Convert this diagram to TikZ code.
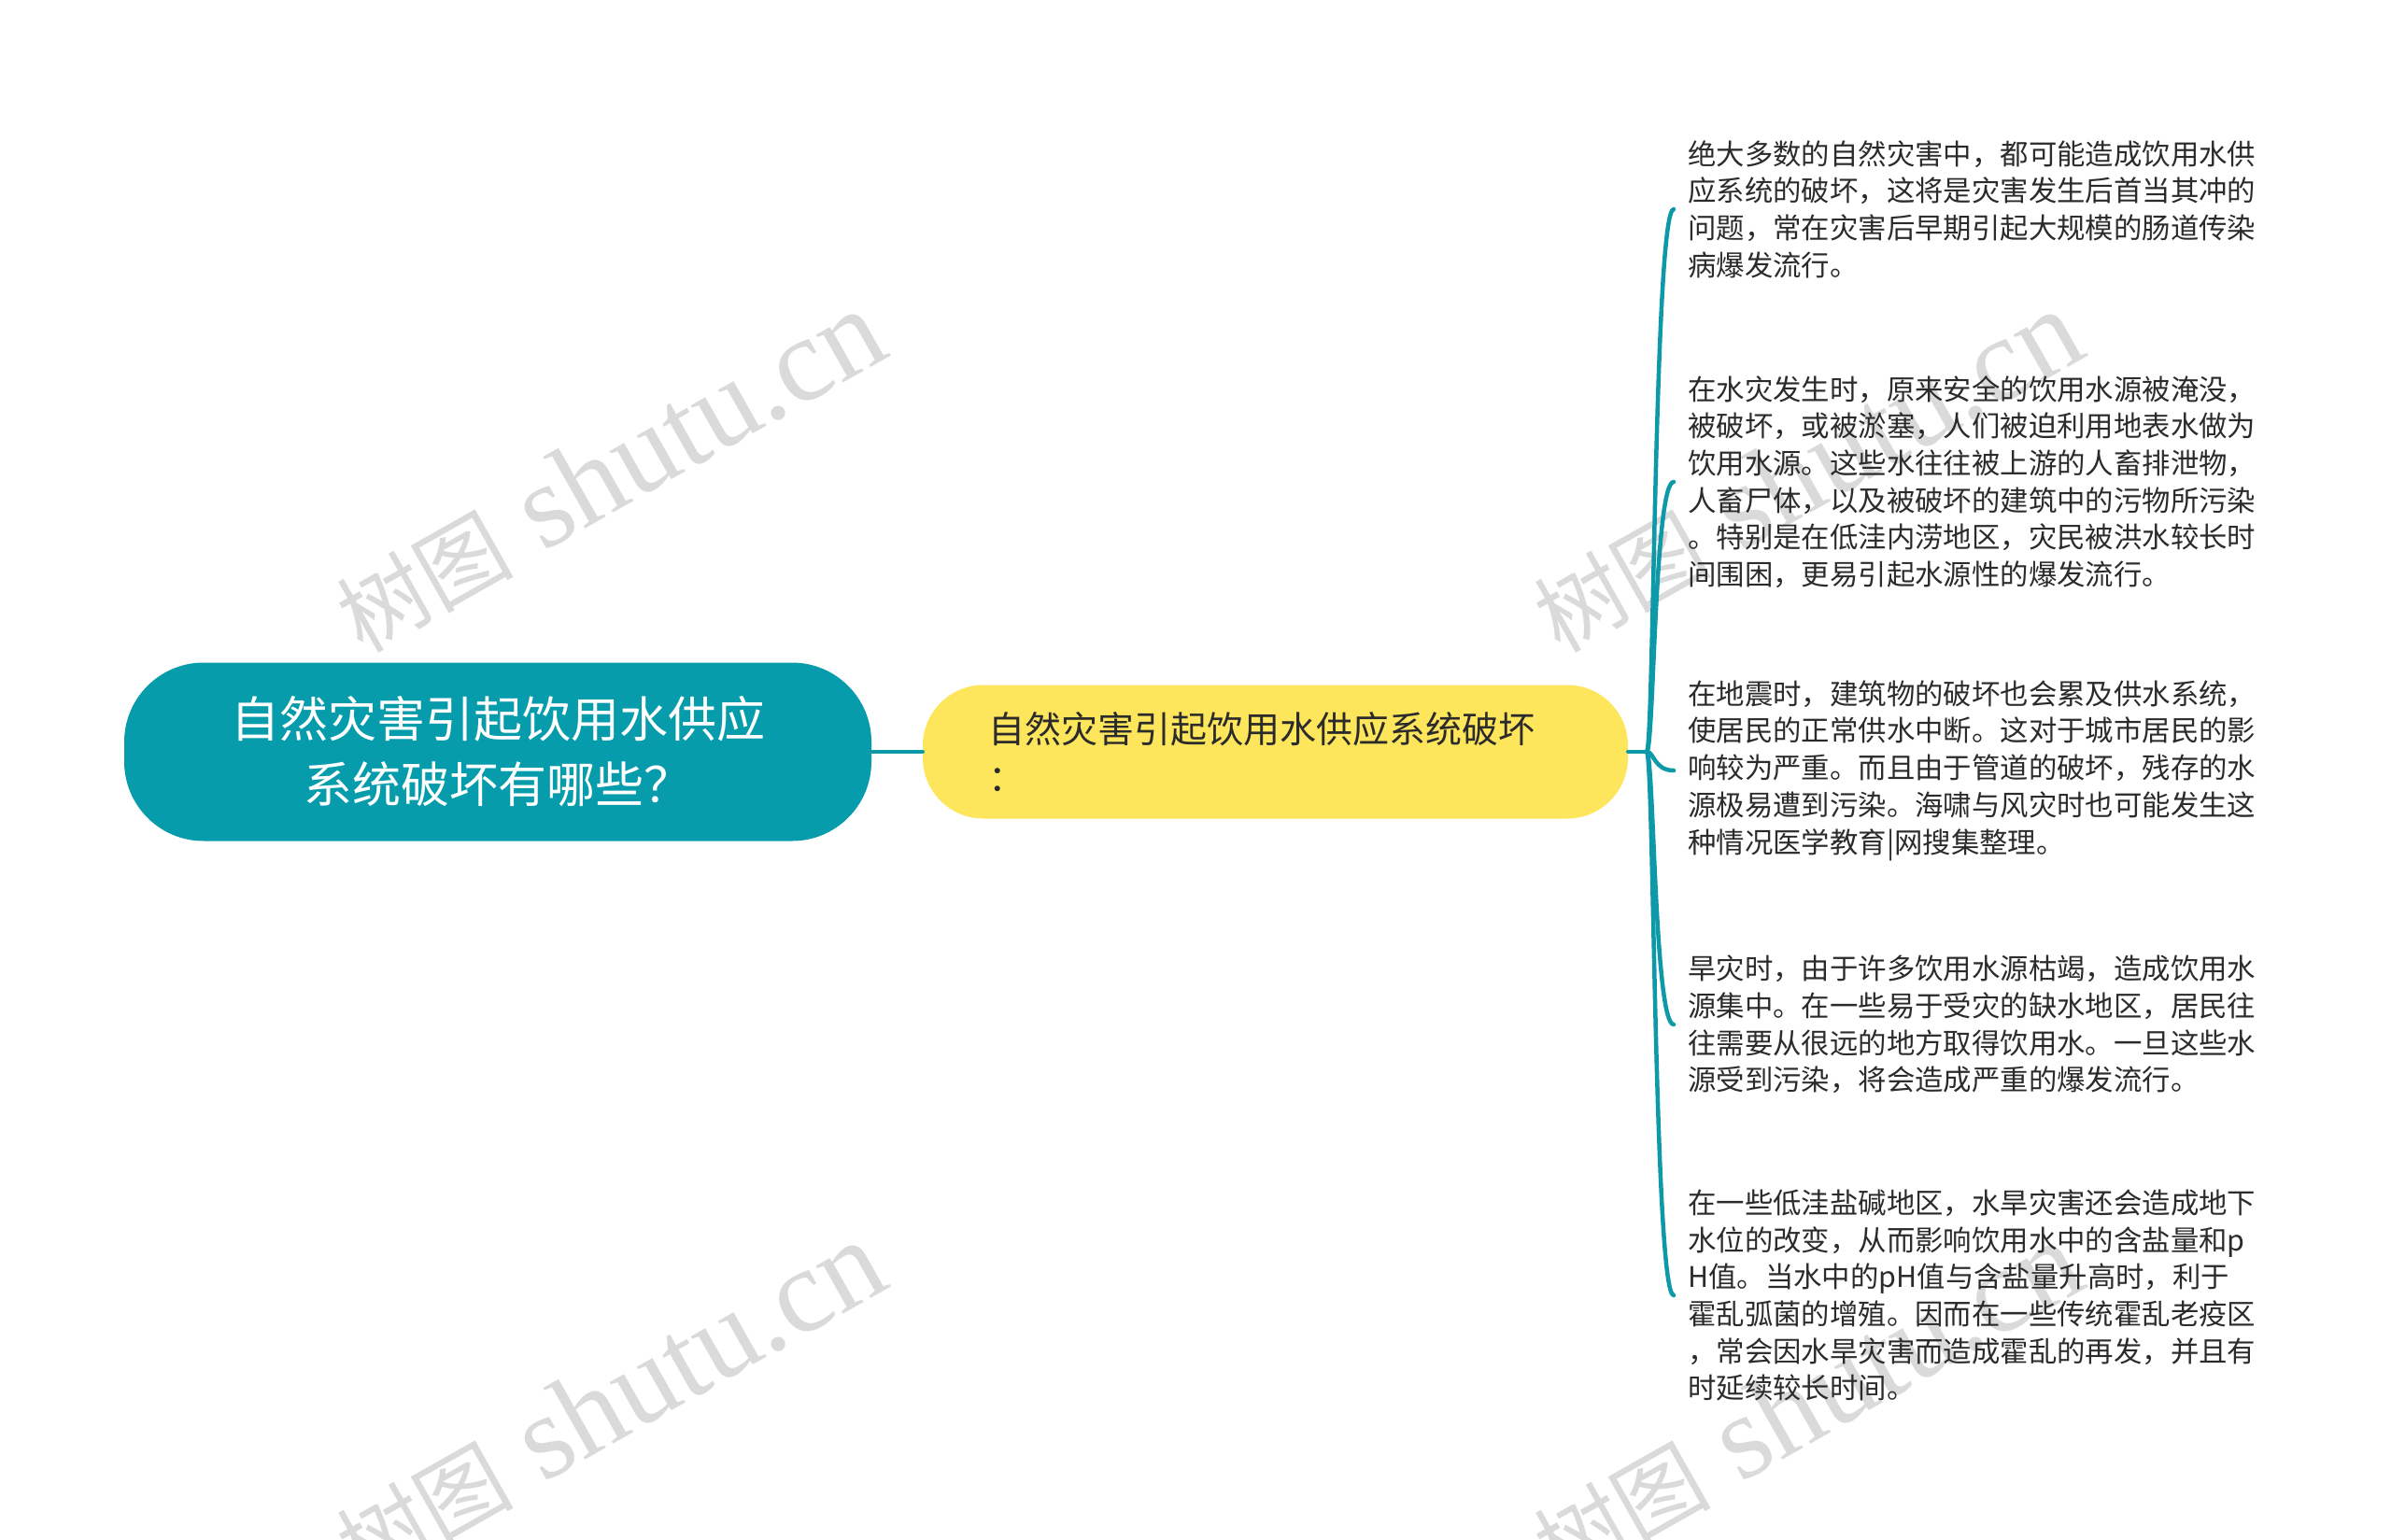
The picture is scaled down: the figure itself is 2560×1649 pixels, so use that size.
\documentclass[tikz,border=0pt]{standalone}
\usepackage{fontspec}
\setmainfont{Noto Sans CJK SC}
\newfontfamily\wmlatin{Liberation Serif}
\newfontfamily\wmcjk{Noto Sans CJK SC}
\definecolor{rootfill}{HTML}{069CAC}
\definecolor{linecol}{HTML}{0E99A9}
\definecolor{mainfill}{HTML}{FDE55C}
\definecolor{txt}{HTML}{2B2B2B}
\definecolor{wm}{HTML}{DADADA}
\newcommand{\wmtext}{{\fontsize{95pt}{100pt}\wmcjk 树图}{\fontsize{128pt}{130pt}\wmlatin\ shutu.cn}}
\tikzset{
  rootbox/.style={fill=rootfill, draw=none, rounded corners=85pt, minimum width=800pt, minimum height=191pt,
    align=center, text=white, font={\fontsize{52pt}{70pt}\selectfont}, inner sep=0pt},
  mainbox/.style={fill=mainfill, draw=none, rounded corners=65pt, minimum width=755pt, minimum height=143pt,
    text width=615pt, align=left, text=txt, font={\fontsize{39pt}{52pt}\selectfont}, inner sep=0pt},
  leaf/.style={anchor=west, inner xsep=15pt, inner ysep=0pt, align=left, text=txt,
    font={\fontsize{30.4pt}{39.7pt}\selectfont}},
  conn/.style={draw=linecol, line width=4.5pt, line cap=round},
  watermark/.style={rotate=29.5, text=wm, inner sep=0pt}
}
\begin{document}
\begin{tikzpicture}[x=1pt,y=-1pt]
\useasboundingbox (0,0) rectangle (2560,1649);
\clip (0,0) rectangle (2560,1649);
\fill[white] (0,0) rectangle (2560,1649);
% watermarks
\node[watermark] (wm1) at (652,505) {\wmtext};
\node[watermark] (wm2) at (1934,505) {\wmtext};
\node[watermark] (wm3) at (652,1502) {\wmtext};
\node[watermark] (wm4) at (1934,1502) {\wmtext};
% nodes
\node[rootbox] (root) at (533,805) {自然灾害引起饮用水供应\\系统破坏有哪些？};
\node[mainbox] (main) at (1365.5,805) {自然灾害引起饮用水供应系统破坏\\：};
\coordinate (fork) at (1763,805);
\node[leaf] (l1) at (1792,224) {绝大多数的自然灾害中，都可能造成饮用水供\\应系统的破坏，这将是灾害发生后首当其冲的\\问题，常在灾害后早期引起大规模的肠道传染\\病爆发流行。};
\node[leaf] (l2) at (1792,516) {在水灾发生时，原来安全的饮用水源被淹没，\\被破坏，或被淤塞，人们被迫利用地表水做为\\饮用水源。这些水往往被上游的人畜排泄物，\\人畜尸体，以及被破坏的建筑中的污物所污染\\。特别是在低洼内涝地区，灾民被洪水较长时\\间围困，更易引起水源性的爆发流行。};
\node[leaf] (l3) at (1792,825) {在地震时，建筑物的破坏也会累及供水系统，\\使居民的正常供水中断。这对于城市居民的影\\响较为严重。而且由于管道的破坏，残存的水\\源极易遭到污染。海啸与风灾时也可能发生这\\种情况医学教育|网搜集整理。};
\node[leaf] (l4) at (1792,1097) {旱灾时，由于许多饮用水源枯竭，造成饮用水\\源集中。在一些易于受灾的缺水地区，居民往\\往需要从很远的地方取得饮用水。一旦这些水\\源受到污染，将会造成严重的爆发流行。};
\node[leaf] (l5) at (1792,1387) {在一些低洼盐碱地区，水旱灾害还会造成地下\\水位的改变，从而影响饮用水中的含盐量和p\\H值。当水中的pH值与含盐量升高时，利于\\霍乱弧菌的增殖。因而在一些传统霍乱老疫区\\，常会因水旱灾害而造成霍乱的再发，并且有\\时延续较长时间。};
% connectors
\draw[conn] (root.east) -- (main.west);
\draw[conn] (main.east) -- (fork);
\foreach \n in {l1,l2,l3,l4,l5}{
  \draw[conn] (fork) .. controls (1771,805) and (\n.west -| 1771,0) .. (\n.west);
}
\end{tikzpicture}
\end{document}
